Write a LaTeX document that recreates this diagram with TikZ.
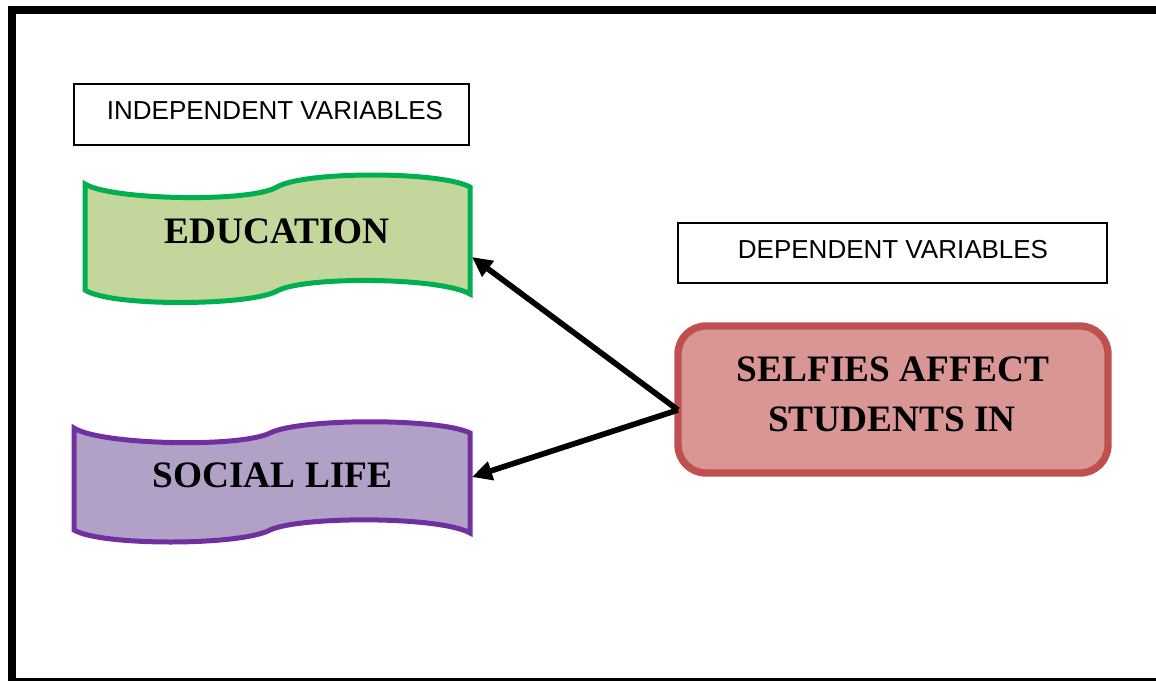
\documentclass[tikz,border=0pt]{standalone}
\usepackage{fontspec}
\setmainfont{Liberation Serif}
\setsansfont{Liberation Sans}
\usetikzlibrary{arrows.meta}
\definecolor{grnline}{HTML}{00B050}
\definecolor{grnfill}{HTML}{C3D69B}
\definecolor{purline}{HTML}{7030A0}
\definecolor{purfill}{HTML}{B2A1C7}
\definecolor{redline}{HTML}{C0504D}
\definecolor{redfill}{HTML}{D99694}
\tikzset{
  labelbox/.style={draw=black, line width=1.5pt, inner sep=0pt},
  sanslabel/.style={font=\sffamily\fontsize{19.5pt}{23pt}\selectfont, anchor=base, inner sep=0pt},
  boldlabel/.style={font=\bfseries\fontsize{28pt}{34pt}\selectfont, anchor=base, inner sep=0pt},
  wavegreen/.style={draw=grnline, fill=grnfill, line width=3.75pt, line join=miter},
  wavepurple/.style={draw=purline, fill=purfill, line width=3.75pt, line join=miter},
  effectbox/.style={draw=redline, fill=redfill, line width=5.5pt, rounded corners=21pt,
    minimum width=322.5pt, minimum height=110.25pt, inner sep=0pt},
  arrowline/.style={line width=4.25pt, -{Triangle[length=15pt,width=14pt]}},
  frameline/.style={line width=6pt}
}
\begin{document}
\begin{tikzpicture}[x=0.75pt,y=-0.75pt]
\useasboundingbox (0,0) rectangle (1156,681);
\clip (0,0) rectangle (1156,681);
% frame
\draw[frameline] (1170,10) -- (12,10) -- (12,682) -- (1170,682);
% label boxes
\node[labelbox, minimum width=296.25pt, minimum height=45.75pt] (indepbox) at (271.5,114.5) {};
\node[sanslabel] (indeptext) at (275,120) {INDEPENDENT VARIABLES};
\node[labelbox, minimum width=321.75pt, minimum height=45pt] (depbox) at (892.5,253) {};
\node[sanslabel] (deptext) at (893,258) {DEPENDENT VARIABLES};
% education wave
\path[wavegreen] (85,184) .. controls (110,200) and (250,203) .. (277,187)
  .. controls (304,171) and (440,171) .. (470,187) -- (470,294)
  .. controls (440,277) and (304,276) .. (277,291)
  .. controls (250,306) and (110,307) .. (85,290) -- cycle;
\node[boldlabel] (edu) at (277,243) {EDUCATION};
\coordinate (eduR) at (472,257);
% social life wave
\path[wavepurple] (74,428) .. controls (100,445) and (240,448) .. (270,433)
  .. controls (300,418) and (440,418) .. (470,433) -- (470,533)
  .. controls (440,516) and (300,516) .. (270,530)
  .. controls (240,546) and (100,546) .. (74,530) -- cycle;
\node[boldlabel] (soc) at (272.5,487) {SOCIAL LIFE};
\coordinate (socR) at (472,477);
% effect box
\node[effectbox] (selfies) at (893,399.5) {};
\node[boldlabel] (selfiesA) at (893,381) {SELFIES AFFECT};
\node[boldlabel] (selfiesB) at (892,431) {STUDENTS IN};
\coordinate (src) at (678,410);
% arrows
\draw[arrowline, line join=round] (src) -- (eduR);
\draw[arrowline, line join=round] (src) -- (socR);
\end{tikzpicture}
\end{document}
